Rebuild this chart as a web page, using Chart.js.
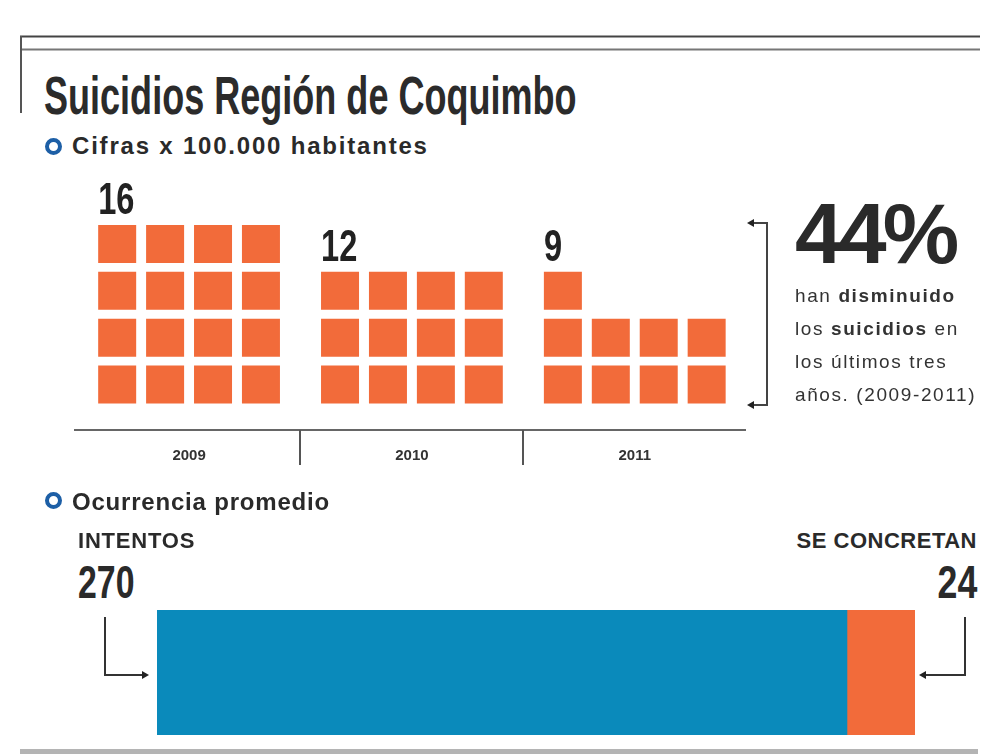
<!DOCTYPE html>
<html lang="es">
<head>
<meta charset="utf-8">
<title>Suicidios Región de Coquimbo</title>
<script src="https://cdn.jsdelivr.net/npm/chart.js@4.4.1/dist/chart.umd.min.js"></script>
<style>
  body { margin: 0; background: #fff; }
  #page { position: relative; width: 992px; height: 754px; overflow: hidden; color: #2a2a2a;
          font-family: "Liberation Sans", Arial, sans-serif; }
  .t { position: absolute; white-space: nowrap; line-height: 1; }
  .cond { font-weight: bold; transform-origin: left top; }
  .cond.r { transform-origin: right top; }
  .ring { position: absolute; width: 9px; height: 9px; border: 4px solid #1d5fa6; border-radius: 50%; background: #fff; }
  .box { position: absolute; }
</style>
</head>
<body>
<div id="page">
  <svg class="box" style="left:0;top:0" width="992" height="754">
    <!-- marco superior -->
    <line x1="20" y1="36.5" x2="980" y2="36.5" stroke="#444" stroke-width="2"/>
    <line x1="20" y1="49.5" x2="980" y2="49.5" stroke="#777" stroke-width="2"/>
    <line x1="21" y1="36" x2="21" y2="113" stroke="#555" stroke-width="2"/>
    <!-- llave del 44% -->
    <polyline points="752,223 767,223 767,405 752,405" fill="none" stroke="#444" stroke-width="2"/>
    <polygon points="747,223 754,219 754,227" fill="#222"/>
    <polygon points="747,405 754,401 754,409" fill="#222"/>
    <!-- flechas intentos / se concretan -->
    <polyline points="105,617 105,675 142,675" fill="none" stroke="#333" stroke-width="2"/>
    <polygon points="149,675 142,671 142,679" fill="#222"/>
    <polyline points="965,617 965,675 926,675" fill="none" stroke="#333" stroke-width="2"/>
    <polygon points="919,675 926,671 926,679" fill="#222"/>
    <!-- filete inferior -->
    <rect x="20" y="749" width="958" height="5" fill="#b4b4b4"/>
  </svg>

  <div class="t cond" id="titulo" style="left:44px;top:69px;font-size:53px;color:#2b2b2b;transform:scaleX(0.68)">Suicidios Región de Coquimbo</div>
  <div class="ring" style="left:45px;top:138px"></div>
  <div class="t" style="left:72px;top:134px;font-size:24px;font-weight:bold;letter-spacing:1.8px">Cifras x 100.000 habitantes</div>

  <div class="box" style="left:0;top:0;width:992px;height:500px"><canvas id="tasas"></canvas></div>

  <div class="t" id="pct" style="left:795px;top:190px;font-size:86px;font-weight:bold;letter-spacing:-4px"></div>
  <div class="t" style="left:795px;top:279px;font-size:19px;line-height:33px;letter-spacing:1.6px;color:#333">
    han <b>disminuido</b><br>los <b>suicidios</b> en<br>los últimos tres<br>años. (2009-2011)
  </div>

  <div class="ring" style="left:45px;top:492px"></div>
  <div class="t" style="left:72px;top:490px;font-size:24px;font-weight:bold;letter-spacing:0.8px">Ocurrencia promedio</div>

  <div class="t" id="lblIntentos" style="left:78px;top:530px;font-size:22px;font-weight:bold;letter-spacing:0.8px"></div>
  <div class="t cond" id="valIntentos" style="left:78px;top:558px;font-size:47px;transform:scaleX(0.72)"></div>
  <div class="t" id="lblConcretan" style="right:15px;top:530px;font-size:22px;font-weight:bold;letter-spacing:0.5px"></div>
  <div class="t cond r" id="valConcretan" style="right:15px;top:558px;font-size:47px;transform:scaleX(0.76)"></div>

  <div class="box" style="left:0;top:600px;width:992px;height:154px"><canvas id="ocurrencia"></canvas></div>
</div>

<script>
// datos
const years = ['2009', '2010', '2011'];
const tasas = [16, 12, 9];                 // suicidios x 100.000 habitantes
const ocurrenciaLabels = ['INTENTOS', 'SE CONCRETAN'];
const ocurrencia = [270, 24];
const disminucion = 44;                    // % entre 2009 y 2011

const NARANJO = '#f26b3a';
const AZUL = '#0a8abb';
const COLS = 4;        // cuadros por fila
const GROUP = 4.65;    // separación entre años (en columnas)
const SIDE = 38;       // lado del cuadro en px

Chart.defaults.font.family = '"Liberation Sans", Arial, sans-serif';
Chart.defaults.animation = false;
Chart.defaults.events = [];

document.getElementById('pct').textContent = disminucion + '%';
document.getElementById('lblIntentos').textContent = ocurrenciaLabels[0];
document.getElementById('valIntentos').textContent = ocurrencia[0];
document.getElementById('lblConcretan').textContent = ocurrenciaLabels[1];
document.getElementById('valConcretan').textContent = ocurrencia[1];

// un cuadro por unidad, llenando de abajo hacia arriba
const cuadros = [];
tasas.forEach((n, i) => {
  for (let k = 0; k < n; k++) {
    cuadros.push({ x: i * GROUP + (k % COLS), y: Math.floor(k / COLS) });
  }
});

const etiquetasPlugin = {
  id: 'etiquetas',
  afterDraw(chart) {
    const { ctx, scales: { x, y }, chartArea } = chart;
    ctx.save();
    // separadores entre años
    ctx.strokeStyle = '#555';
    ctx.lineWidth = 2;
    for (let i = 0; i < years.length - 1; i++) {
      const px = Math.round(x.getPixelForValue(i * GROUP + (COLS - 1 + GROUP) / 2));
      ctx.beginPath();
      ctx.moveTo(px, chartArea.bottom);
      ctx.lineTo(px, chartArea.bottom + 35);
      ctx.stroke();
    }
    // cifra sobre cada grupo (condensada)
    ctx.fillStyle = '#222';
    ctx.font = 'bold 44px "Liberation Sans", Arial, sans-serif';
    ctx.textBaseline = 'alphabetic';
    tasas.forEach((n, i) => {
      const fila = Math.ceil(n / COLS) - 1;
      const px = x.getPixelForValue(i * GROUP) - SIDE / 2;
      const py = y.getPixelForValue(fila) - SIDE / 2 - 11;
      ctx.save();
      ctx.translate(px, py);
      ctx.scale(0.74, 1);
      ctx.fillText(String(n), 0, 0);
      ctx.restore();
    });
    ctx.restore();
  }
};

new Chart(document.getElementById('tasas'), {
  type: 'scatter',
  data: {
    datasets: [{
      data: cuadros,
      pointStyle: 'rect',
      pointRadius: SIDE / Math.SQRT2,
      pointBackgroundColor: NARANJO,
      pointBorderWidth: 0,
      clip: false
    }]
  },
  options: {
    responsive: true,
    maintainAspectRatio: false,
    layout: { padding: { left: 75, right: 247, top: 170, bottom: 30 } },
    plugins: { legend: { display: false }, tooltip: { enabled: false } },
    scales: {
      x: {
        type: 'linear',
        min: -0.88,
        max: 13.1,
        afterBuildTicks: s => { s.ticks = years.map((_, i) => ({ value: i * GROUP + (COLS - 1) / 2 })); },
        afterFit: s => { s.height = 40; },
        ticks: {
          callback: (v, idx) => years[idx],
          font: { size: 15, weight: 'bold' },
          color: '#333',
          padding: 9,
          maxRotation: 0,
          autoSkip: false
        },
        grid: { display: false },
        border: { display: true, color: '#666', width: 2 }
      },
      y: { display: false, min: -0.97, max: 4.58 }
    }
  },
  plugins: [etiquetasPlugin]
});

new Chart(document.getElementById('ocurrencia'), {
  type: 'bar',
  data: {
    labels: ['Ocurrencia promedio'],
    datasets: [
      { label: ocurrenciaLabels[1], data: [[ocurrencia[0] - ocurrencia[1], ocurrencia[0]]], backgroundColor: NARANJO },
      { label: ocurrenciaLabels[0], data: [[0, ocurrencia[0]]], backgroundColor: AZUL }
    ]
  },
  options: {
    indexAxis: 'y',
    responsive: true,
    maintainAspectRatio: false,
    layout: { padding: { left: 157, right: 77, top: 10, bottom: 19 } },
    plugins: { legend: { display: false }, tooltip: { enabled: false } },
    datasets: { bar: { grouped: false, barPercentage: 1, categoryPercentage: 1, borderWidth: 0 } },
    scales: {
      x: { display: false, min: 0, max: ocurrencia[0] },
      y: { display: false }
    }
  }
});
</script>
</body>
</html>
